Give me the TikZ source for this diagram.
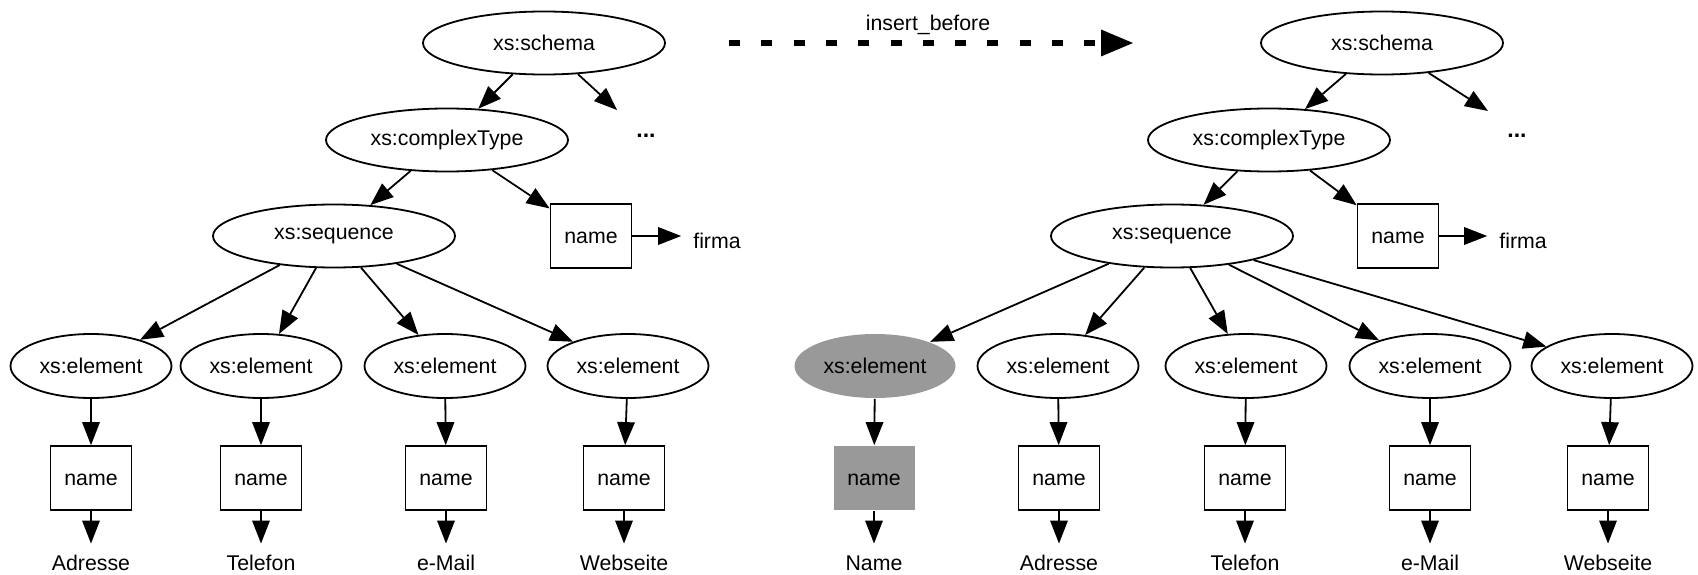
\documentclass[tikz,border=0pt]{standalone}
\usepackage{fontspec}
\setmainfont{Liberation Sans}
\usetikzlibrary{arrows.meta,shapes.geometric}
\definecolor{hilite}{RGB}{153,153,153}
\begin{document}
\begin{tikzpicture}[x=1pt,y=-1pt,
  font=\fontsize{21.3}{25}\selectfont,
  every node/.style={inner sep=0pt},
  bigoval/.style={ellipse,draw,line width=1.8pt,minimum width=242pt,minimum height=63pt},
  eloval/.style={ellipse,draw,line width=1.8pt,minimum width=161pt,minimum height=64pt},
  namebox/.style={rectangle,draw,line width=1.8pt,minimum width=81pt,minimum height=64pt,
    text height=15.3pt,text depth=0pt},
  marked/.style={draw=none,fill=hilite},
  leaf/.style={anchor=base,inner ysep=11pt,text height=15.3pt,text depth=0pt},
  valuelbl/.style={anchor=base,inner xsep=12pt},
  moredots/.style={font=\fontsize{23}{25}\selectfont\bfseries},
  link/.style={line width=1.8pt,-{Triangle[length=23pt,width=18pt,line width=0pt]}},
  opflow/.style={line width=5.3pt,dash pattern=on 11pt off 21.3pt,
    -{Triangle[length=32pt,width=27pt,line width=0pt]}},
]
\useasboundingbox (0,0) rectangle (1698,575);

% ---------- tree before the operation ----------
\node[bigoval] (s1) at (544,43) {xs:schema};
\node[bigoval] (c1) at (447,140) {xs:complexType};
\node[bigoval] (q1) at (334,236) {xs:sequence};
\node[namebox] (n1) at (591,236) {name};
\node[valuelbl] (f1) at (717,248) {firma};
\node[moredots] (d1) at (646,136) {...};
\coordinate (t1) at (617,110);

\node[eloval] (e11) at (91,366) {xs:element};
\node[eloval] (e12) at (261,366) {xs:element};
\node[eloval] (e13) at (445,366) {xs:element};
\node[eloval] (e14) at (628,366) {xs:element};

\node[namebox] (b11) at (91,478) {name};
\node[namebox] (b12) at (261,478) {name};
\node[namebox] (b13) at (446,478) {name};
\node[namebox] (b14) at (624,478) {name};

\node[leaf] (l11) at (91,570) {Adresse};
\node[leaf] (l12) at (261,570) {Telefon};
\node[leaf] (l13) at (446,570) {e-Mail};
\node[leaf] (l14) at (624,570) {Webseite};

\draw[link] (s1) -- (c1);
\draw[link] (s1) -- (t1);
\draw[link] (c1) -- (q1);
\draw[link] (c1) -- (n1);
\draw[link] (n1.east) -- (n1.east -| f1.west);
\foreach \i in {1,...,4}{
  \draw[link] (q1) -- (e1\i);
  \draw[link] (e1\i) -- (b1\i);
  \draw[link] (b1\i) -- (l1\i);
}

% ---------- operation arrow ----------
\coordinate (ops) at (729,43);
\coordinate (ope) at (1133,43);
\draw[opflow] (ops) -- (ope);
\node[anchor=base] (opl) at (928,31) {insert\_before};

% ---------- tree after the operation ----------
\node[bigoval] (s2) at (1382,43) {xs:schema};
\node[bigoval] (c2) at (1269,140) {xs:complexType};
\node[bigoval] (q2) at (1172,236) {xs:sequence};
\node[namebox] (n2) at (1398,236) {name};
\node[valuelbl] (f2) at (1523,248) {firma};
\node[moredots] (d2) at (1517,136) {...};
\coordinate (t2) at (1488,111);

\node[eloval,marked] (e21) at (875,366) {xs:element};
\node[eloval] (e22) at (1058,366) {xs:element};
\node[eloval] (e23) at (1246,366) {xs:element};
\node[eloval] (e24) at (1430,366) {xs:element};
\node[eloval] (e25) at (1612,366) {xs:element};

\node[namebox,marked] (b21) at (874,478) {name};
\node[namebox] (b22) at (1059,478) {name};
\node[namebox] (b23) at (1245,478) {name};
\node[namebox] (b24) at (1430,478) {name};
\node[namebox] (b25) at (1608,478) {name};

\node[leaf] (l21) at (874,570) {Name};
\node[leaf] (l22) at (1059,570) {Adresse};
\node[leaf] (l23) at (1245,570) {Telefon};
\node[leaf] (l24) at (1430,570) {e-Mail};
\node[leaf] (l25) at (1608,570) {Webseite};

\draw[link] (s2) -- (c2);
\draw[link] (s2) -- (t2);
\draw[link] (c2) -- (q2);
\draw[link] (c2) -- (n2);
\draw[link] (n2.east) -- (n2.east -| f2.west);
\foreach \i in {1,...,5}{
  \draw[link] (q2) -- (e2\i);
  \draw[link] (e2\i) -- (b2\i);
  \draw[link] (b2\i) -- (l2\i);
}
\end{tikzpicture}
\end{document}
